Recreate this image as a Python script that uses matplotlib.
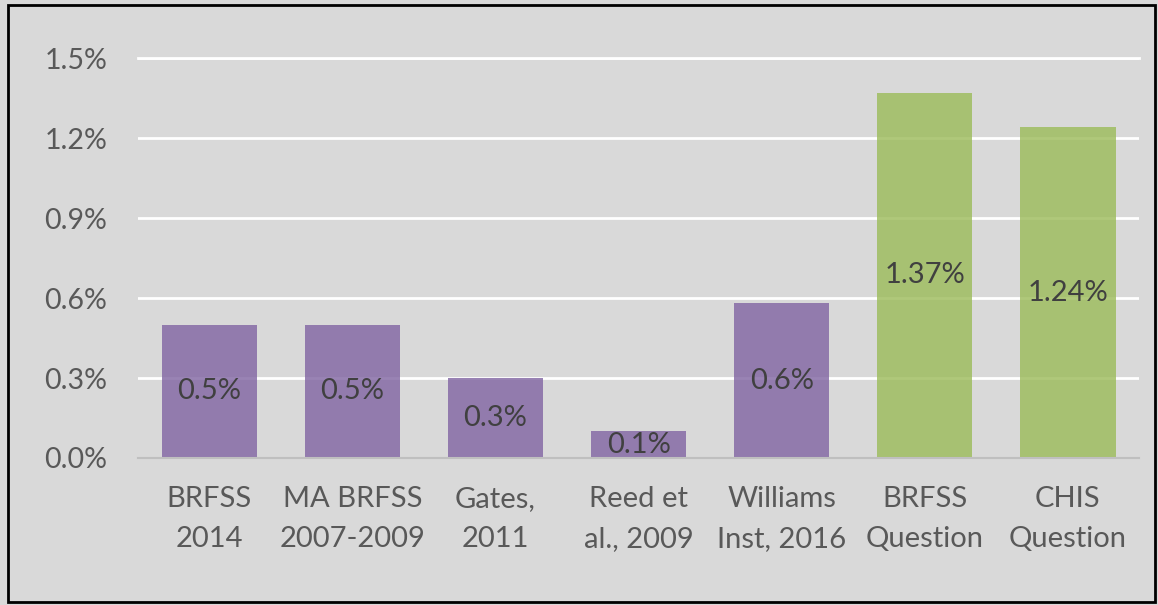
import matplotlib
matplotlib.use("Agg")
import matplotlib.pyplot as plt
from matplotlib.patches import Rectangle

categories = ["BRFSS\n2014", "MA BRFSS\n2007-2009", "Gates,\n2011", "Reed et\nal., 2009",
              "Williams\nInst, 2016", "BRFSS\nQuestion", "CHIS\nQuestion"]
values = [0.50, 0.50, 0.30, 0.10, 0.58, 1.37, 1.24]
value_labels = ["0.5%", "0.5%", "0.3%", "0.1%", "0.6%", "1.37%", "1.24%"]
groups = ["lit", "lit", "lit", "lit", "lit", "q", "q"]
yticks = [0.0, 0.3, 0.6, 0.9, 1.2, 1.5]
ytick_labels = ["0.0%", "0.3%", "0.6%", "0.9%", "1.2%", "1.5%"]

colors = {"lit": "#8064A2", "q": "#9BBB59"}
bg = "#D9D9D9"

plt.rcParams['font.family'] = ['Lato', 'DejaVu Sans']

fig = plt.figure(figsize=(11.58, 6.05), dpi=100, facecolor=bg)
ax = fig.add_axes([0.119, 0.243, 0.865, 0.661])
ax.set_facecolor(bg)

x = list(range(len(categories)))
bars = ax.bar(x, values, width=0.665, color=[colors[g] for g in groups], alpha=0.8, zorder=3)

for xi, v, lab in zip(x, values, value_labels):
    ax.text(xi, v / 2, lab, ha="center", va="center", fontsize=21, color="#404040", zorder=4)

ax.set_ylim(0, 1.5)
ax.set_xlim(-0.5, len(categories) - 0.5)
ax.set_yticks(yticks)
ax.set_yticklabels(ytick_labels)
ax.set_xticks(x)
ax.set_xticklabels(categories, linespacing=1.68)
ax.tick_params(axis="y", length=0, pad=22, labelsize=20.5, labelcolor="#595959")
ax.tick_params(axis="x", length=0, pad=20, labelsize=21, labelcolor="#595959")

ax.yaxis.grid(True, color="white", linewidth=2, zorder=1)
ax.set_axisbelow(True)
for s in ["top", "right", "left"]:
    ax.spines[s].set_visible(False)
ax.spines["bottom"].set_color("#BFBFBF")
ax.spines["bottom"].set_linewidth(1.5)
ax.spines["bottom"].set_zorder(5)

# top gridline not clipped
ax.axhline(1.5, color="white", linewidth=2, zorder=1, clip_on=False)

# figure border
fig.patches.append(Rectangle((0.007, 0.005), 0.990, 0.987, transform=fig.transFigure,
                             fill=False, edgecolor="black", linewidth=2))

fig.savefig("out.png", dpi=100, facecolor=bg)
